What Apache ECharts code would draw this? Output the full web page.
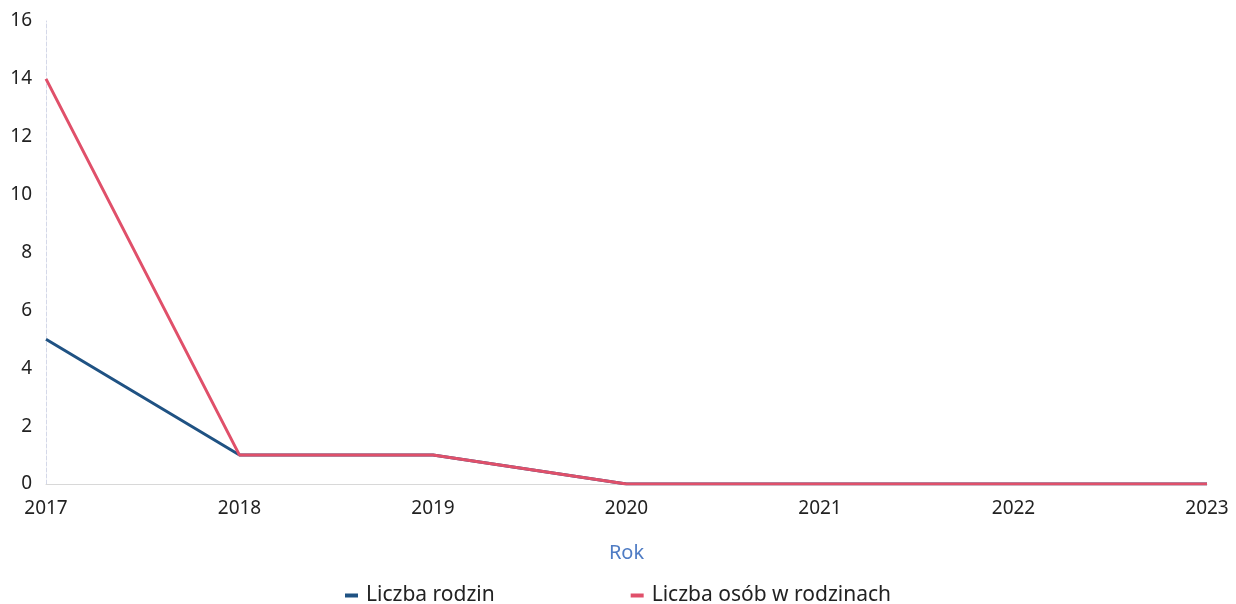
<!DOCTYPE html>
<html>
<head>
<meta charset="utf-8">
<script src="https://cdn.jsdelivr.net/npm/echarts@6/dist/echarts.min.js"></script>
<style>
  html, body { margin: 0; padding: 0; background: #fff; }
</style>
</head>
<body>
<!-- kontener na wykres -->
<div id="main" style="width: 1236px;height: 604px;"></div>
<script>
var years = ['2017', '2018', '2019', '2020', '2021', '2022', '2023']
var liczbaRodzin = [5, 1, 1, 0, 0, 0, 0]
var liczbaOsob = [14, 1, 1, 0, 0, 0, 0]
var yTicks = { min: 0, max: 16, interval: 2 }

var myChart = echarts.init(document.getElementById('main'))
var font = '"Noto Sans", "Open Sans", sans-serif'
var option = {
  animation: false,
  textStyle: { fontFamily: font },
  grid: {
    left: 46,
    right: 29,
    top: 21,
    bottom: 120
  },
  legend: {
    top: 580,
    left: 'center',
    itemGap: 136,
    itemWidth: 13,
    itemHeight: 4,
    icon: 'rect',
    textStyle: { fontSize: 21, color: '#222', fontFamily: font, padding: [0, 0, 0, 3] },
    data: ['Liczba rodzin', 'Liczba osób w rodzinach']
  },
  xAxis: {
    type: 'category',
    boundaryGap: false,
    data: years,
    name: 'Rok',
    nameLocation: 'middle',
    nameGap: 59,
    nameTextStyle: { color: '#4f7cc4', fontSize: 20, fontFamily: font },
    axisLine: { lineStyle: { color: '#d8d8d8', width: 1 } },
    axisTick: { show: false },
    axisLabel: { color: '#222', fontSize: 19, margin: 15, fontFamily: font }
  },
  yAxis: {
    type: 'value',
    min: yTicks.min,
    max: yTicks.max,
    interval: yTicks.interval,
    axisLine: { show: true, lineStyle: { color: '#d4d8e8', width: 1, type: 'dashed' } },
    axisTick: { show: false },
    splitLine: { show: false },
    axisLabel: { color: '#222', fontSize: 19, margin: 14, fontFamily: font }
  },
  series: [
    {
      name: 'Liczba rodzin',
      type: 'line',
      data: liczbaRodzin,
      symbol: 'none',
      color: '#1f5283',
      lineStyle: { width: 3, color: '#1f5283' }
    },
    {
      name: 'Liczba osób w rodzinach',
      type: 'line',
      data: liczbaOsob,
      symbol: 'none',
      color: '#e0506a',
      lineStyle: { width: 3, color: '#e0506a' }
    }
  ]
}
myChart.setOption(option)
</script>
</body>
</html>
